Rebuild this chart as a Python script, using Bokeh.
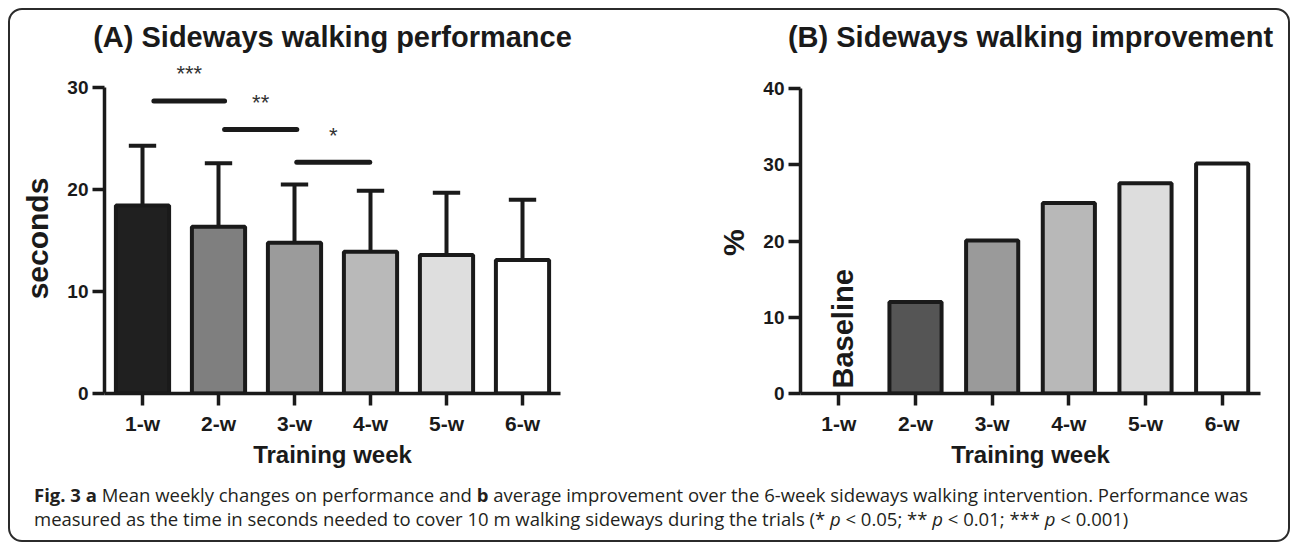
import math
from bokeh.plotting import figure
from bokeh.models import Range1d, FixedTicker, Div
from bokeh.layouts import column, row
from bokeh.core.properties import value
from bokeh.embed import file_html
from bokeh.resources import INLINE

# ---------------- data ----------------
weeks = ["1-w", "2-w", "3-w", "4-w", "5-w", "6-w"]
week_pos = [1, 2, 3, 4, 5, 6]

perf_mean = [18.45, 16.35, 14.8, 13.9, 13.6, 13.1]      # seconds
perf_sd = [5.85, 6.25, 5.7, 6.0, 6.1, 5.9]              # upper error (SD)
perf_colors = ["#202020", "#7f7f7f", "#9b9b9b", "#b9b9b9", "#dedede", "#ffffff"]

sig_from = [1.15, 2.08, 3.03]
sig_to = [2.08, 3.03, 3.99]
sig_y = [28.7, 25.9, 22.7]
sig_labels = ["***", "**", "*"]

impr = [0.0, 12.0, 20.1, 25.0, 27.6, 30.2]              # % improvement
impr_colors = ["#ffffff", "#555555", "#9a9a9a", "#b8b8b8", "#dddddd", "#ffffff"]

ticks_a = [0, 10, 20, 30]
ticks_b = [0, 10, 20, 30, 40]

title_a = "(A) Sideways walking performance"
title_b = "(B) Sideways walking improvement"
ylabel_a = "seconds"
ylabel_b = "%"
xlabel = "Training week"

INK = "#1a1a1a"
FONT = "Liberation Sans"
NBSP = "\u00a0"

W1, W2, H = 638, 640, 466
CAP_H = 64


def make_fig(width, left, right, yend, ybound, yticks, title, ylabel, pad):
    p = figure(width=width, height=H, output_backend="svg", toolbar_location=None,
               x_range=Range1d(0.5, 6.5), y_range=Range1d(0, yend),
               min_border_left=left, min_border_right=right,
               min_border_top=48, min_border_bottom=83, tools="")
    p.background_fill_color = None
    p.border_fill_color = None
    p.outline_line_color = None
    p.xgrid.grid_line_color = None
    p.ygrid.grid_line_color = None

    p.title.text = title
    p.title.align = "center"
    p.title.text_font = FONT
    p.title.text_font_size = "29px"
    p.title.text_font_style = "bold"
    p.title.text_color = INK
    p.title.standoff = 12

    for ax in (p.xaxis[0], p.yaxis[0]):
        ax.axis_line_width = 3.5
        ax.axis_line_color = INK
        ax.major_tick_line_width = 3.5
        ax.major_tick_line_color = INK
        ax.major_tick_out = 12
        ax.major_tick_in = 0
        ax.minor_tick_out = 0
        ax.minor_tick_in = 0
        ax.major_label_text_font = FONT
        ax.major_label_text_font_style = "bold"
        ax.major_label_text_color = INK
        ax.axis_label_text_font = FONT
        ax.axis_label_text_font_style = "bold"
        ax.axis_label_text_color = INK

    p.yaxis.bounds = (0, ybound)
    p.yaxis.ticker = FixedTicker(ticks=yticks)
    p.yaxis.major_label_text_font_size = "19px"
    p.yaxis.major_label_standoff = 4
    # trailing no-break spaces shift the visible label down so that it is
    # centred on the drawn axis (0 .. ybound) rather than on the whole frame
    p.yaxis.axis_label = ylabel + NBSP * pad
    p.yaxis.axis_label_text_font_size = "30px"
    p.yaxis.axis_label_standoff = 10

    p.xaxis.ticker = FixedTicker(ticks=week_pos)
    p.xaxis.major_label_overrides = {k: w for k, w in zip(week_pos, weeks)}
    p.xaxis.major_label_text_font_size = "21px"
    p.xaxis.major_label_standoff = 6
    p.xaxis.axis_label = xlabel
    p.xaxis.axis_label_text_font_size = "24px"
    p.xaxis.axis_label_standoff = 3
    return p


# ---------------- panel A ----------------
p1 = make_fig(W1, 94, 88, 32.87, ticks_a[-1], ticks_a, title_a, ylabel_a, 3)
upper = [m + s for m, s in zip(perf_mean, perf_sd)]
p1.segment(x0=week_pos, y0=perf_mean, x1=week_pos, y1=upper,
           line_color=INK, line_width=4)
p1.segment(x0=[x - 0.18 for x in week_pos], y0=upper,
           x1=[x + 0.18 for x in week_pos], y1=upper,
           line_color=INK, line_width=4)
p1.vbar(x=week_pos, top=perf_mean, bottom=0, width=0.7,
        fill_color=perf_colors, line_color=INK, line_width=4)
p1.segment(x0=sig_from, y0=sig_y, x1=sig_to, y1=sig_y,
           line_color=INK, line_width=5, line_cap="round")
p1.text(x=[(a + b) / 2 for a, b in zip(sig_from, sig_to)], y=sig_y, text=sig_labels,
        text_align="center", text_baseline="alphabetic", y_offset=-27,
        text_font=value(FONT), text_font_size="22px", text_color="#333333")

# ---------------- panel B ----------------
p2 = make_fig(W2, 152, 28, 43.98, ticks_b[-1], ticks_b, title_b, ylabel_b, 4)
bx = [x for x, v in zip(week_pos, impr) if v > 0]
bt = [v for v in impr if v > 0]
bc = [c for c, v in zip(impr_colors, impr) if v > 0]
p2.vbar(x=bx, top=bt, bottom=0, width=0.68,
        fill_color=bc, line_color=INK, line_width=4)
p2.text(x=[week_pos[0]], y=[impr[0]], text=["Baseline"], angle=math.pi / 2,
        text_align="left", text_baseline="middle", x_offset=4, y_offset=-5,
        text_font=value(FONT), text_font_style="bold", text_font_size="29px",
        text_color=INK)

# ---------------- caption ----------------
caption_html = (
    '<div style="font-family:\'Open Sans\'; font-size:18.5px; line-height:24px; color:#231f20; '
    'padding:2px 0 0 19px; white-space:nowrap;">'
    '<b>Fig. 3</b> <b>a</b> Mean weekly changes on performance and <b>b</b> average improvement '
    'over the 6-week sideways walking intervention. Performance was<br>'
    'measured as the time in seconds needed to cover 10 m walking sideways during the trials '
    '(* <i>p</i> &lt; 0.05; ** <i>p</i> &lt; 0.01; *** <i>p</i> &lt; 0.001)</div>'
)
cap = Div(text=caption_html, width=W1 + W2, height=CAP_H)

layout = column(row(p1, p2), cap,
                styles={"border": "2px solid #2b2b2b", "border-radius": "14px",
                        "margin": "8px 0 0 8px", "box-sizing": "content-box",
                        "width": f"{W1 + W2}px", "max-width": f"{W1 + W2}px",
                        "height": f"{H + CAP_H}px", "max-height": f"{H + CAP_H}px"})

open("out.html", "w").write(file_html(layout, INLINE))
